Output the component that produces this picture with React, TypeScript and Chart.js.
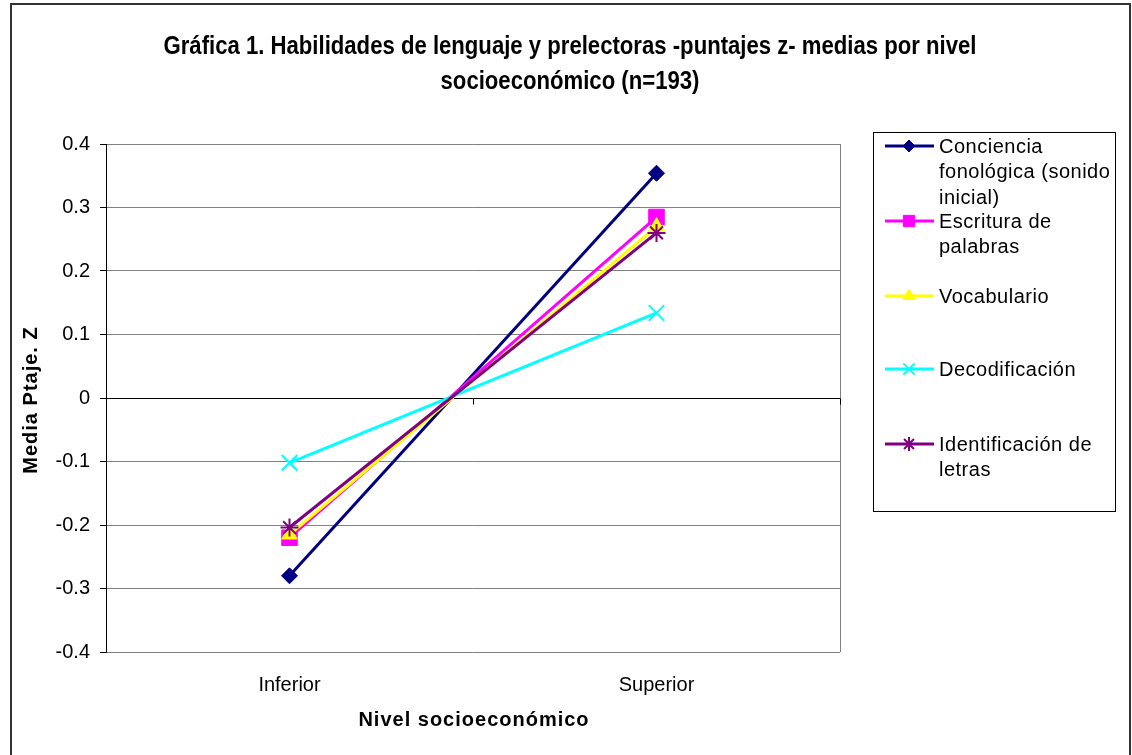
import React, { useEffect, useRef } from "react";
import { Chart, registerables } from "chart.js";
import { drawPoint } from "chart.js/helpers";

Chart.register(...registerables);

const categories = ["Inferior", "Superior"];
const seriesNames = [
  ["Conciencia", "fonológica (sonido", "inicial)"],
  ["Escritura de", "palabras"],
  ["Vocabulario"],
  ["Decodificación"],
  ["Identificación de", "letras"],
];
const concienciaValues = [-0.28, 0.354];
const escrituraValues = [-0.22, 0.285];
const vocabularioValues = [-0.215, 0.27];
const decodificacionValues = [-0.102, 0.134];
const identificacionValues = [-0.204, 0.26];
const yTicks = [-0.4, -0.3, -0.2, -0.1, 0, 0.1, 0.2, 0.3, 0.4];
const titleLines = [
  "Gráfica 1. Habilidades de lenguaje y prelectoras -puntajes z- medias por nivel",
  "socioeconómico (n=193)",
];
const yTitle = "Media Ptaje. Z";
const xTitle = "Nivel socioeconómico";

const SANS = '"Liberation Sans", Arial, sans-serif';

const styles = [
  { color: "#000080", point: "rectRot", radius: 8, legendRadius: 6, pw: 1 },
  { color: "#FF00FF", point: "rect", radius: 11, legendRadius: 8, pw: 1 },
  { color: "#FFFF00", point: "triangle", radius: 9, legendRadius: 7, pw: 1 },
  { color: "#00FFFF", point: "crossRot", radius: 11, legendRadius: 8, pw: 2 },
  { color: "#800080", point: "star", radius: 9, legendRadius: 7, pw: 2 },
];

const decorPlugin = {
  id: "decor",
  beforeDraw(chart: any) {
    const ctx = chart.ctx;
    ctx.save();
    ctx.fillStyle = "#fff";
    ctx.fillRect(0, 0, chart.width, chart.height);
    ctx.restore();
  },
  afterDraw(chart: any) {
    const ctx = chart.ctx;
    const area = chart.chartArea;
    const xs = chart.scales.x;
    const ys = chart.scales.y;
    ctx.save();
    // outer border
    ctx.strokeStyle = "#333";
    ctx.lineWidth = 2;
    ctx.strokeRect(11, 4, 1119, 770);
    // plot right border
    ctx.strokeStyle = "#808080";
    ctx.lineWidth = 1;
    ctx.beginPath();
    ctx.moveTo(Math.round(area.right) + 0.5, area.top);
    ctx.lineTo(Math.round(area.right) + 0.5, area.bottom);
    ctx.stroke();
    // zero-line ticks
    const y0 = Math.round(ys.getPixelForValue(0)) + 0.5;
    const mid = (xs.getPixelForValue(0) + xs.getPixelForValue(1)) / 2;
    ctx.strokeStyle = "#000";
    ctx.beginPath();
    for (const px of [mid, area.right]) {
      const p = Math.round(px) + 0.5;
      ctx.moveTo(p, y0);
      ctx.lineTo(p, y0 + 6);
    }
    ctx.stroke();
    // title (condensed by horizontal scaling)
    ctx.fillStyle = "#000";
    ctx.textAlign = "center";
    ctx.textBaseline = "alphabetic";
    ctx.font = `bold 26px ${SANS}`;
    const w = ctx.measureText(titleLines[0]).width;
    const sx = 813 / w;
    ctx.save();
    ctx.translate(570, 0);
    ctx.scale(sx, 1);
    ctx.fillText(titleLines[0], 0, 54);
    ctx.fillText(titleLines[1], 0, 89);
    ctx.restore();
    // axis titles
    ctx.textBaseline = "middle";
    ctx.font = `bold 20px ${SANS}`;
    (ctx as any).letterSpacing = "1px";
    ctx.fillText(xTitle, 474, 720);
    ctx.save();
    ctx.translate(31, 400);
    ctx.rotate(-Math.PI / 2);
    ctx.fillText(yTitle, 0, 0);
    ctx.restore();
    (ctx as any).letterSpacing = "0.5px";
    // legend
    ctx.strokeStyle = "#000";
    ctx.lineWidth = 1;
    ctx.strokeRect(873.5, 132.5, 242, 379);
    const entryY = [146, 221, 296, 369, 444];
    ctx.font = `20px ${SANS}`;
    ctx.textAlign = "left";
    chart.data.datasets.forEach((ds: any, i: number) => {
      const y = entryY[i];
      ctx.strokeStyle = ds.borderColor;
      ctx.lineWidth = 3;
      ctx.beginPath();
      ctx.moveTo(885, y);
      ctx.lineTo(934, y);
      ctx.stroke();
      ctx.fillStyle = ds.pointBackgroundColor;
      ctx.strokeStyle = ds.pointBorderColor;
      ctx.lineWidth = ds.pointBorderWidth;
      drawPoint(ctx, { pointStyle: ds.pointStyle, radius: styles[i].legendRadius, rotation: 0, borderWidth: ds.pointBorderWidth }, 909, y);
      ctx.fillStyle = "#000";
      seriesNames[i].forEach((line, j) => {
        ctx.fillText(line, 939, y + 1 + j * 25.5);
      });
    });
    (ctx as any).letterSpacing = "0px";
    ctx.restore();
  },
};

export default function App() {
  const ref = useRef<HTMLCanvasElement | null>(null);
  useEffect(() => {
    document.body.style.margin = "0";
    const values = [concienciaValues, escrituraValues, vocabularioValues, decodificacionValues, identificacionValues];
    const chart = new Chart(ref.current as HTMLCanvasElement, {
      type: "line",
      data: {
        labels: categories,
        datasets: values.map((v, i) => ({
          label: seriesNames[i].join(" "),
          data: v,
          borderColor: styles[i].color,
          backgroundColor: styles[i].color,
          pointBackgroundColor: styles[i].color,
          pointBorderColor: styles[i].color,
          pointBorderWidth: styles[i].pw,
          pointStyle: styles[i].point as any,
          pointRadius: styles[i].radius,
          borderWidth: 3,
          tension: 0,
          order: 4 - i,
        })),
      },
      plugins: [decorPlugin],
      options: {
        animation: false,
        responsive: false,
        devicePixelRatio: 1,
        layout: { padding: { left: 0, top: 144, right: 1132 - 840, bottom: 0 } },
        plugins: { legend: { display: false }, tooltip: { enabled: false }, title: { display: false } },
        scales: {
          x: {
            type: "category",
            offset: true,
            grid: { display: false, drawTicks: false },
            border: { display: false },
            ticks: { font: { family: SANS, size: 20 }, color: "#000", padding: 21 },
            afterFit: (s: any) => { s.height = 755 - 652; },
          },
          y: {
            min: -0.4,
            max: 0.4,
            afterBuildTicks: (s: any) => { s.ticks = yTicks.map((v) => ({ value: v })); },
            ticks: {
              font: { family: SANS, size: 20 },
              color: "#000",
              padding: 10,
              callback: (v: any) => String(Number(Number(v).toFixed(1))),
            },
            grid: {
              color: (c: any) => (c.tick && c.tick.value === 0 ? "#000" : "#808080"),
              tickColor: "#000",
              tickLength: 6,
              lineWidth: 1,
            },
            border: { color: "#000", width: 1 },
            afterFit: (s: any) => { s.width = 106; },
          },
        },
      },
    });
    return () => chart.destroy();
  }, []);
  return <canvas ref={ref} width={1132} height={755} style={{ display: "block", width: 1132, height: 755 }} />;
}
